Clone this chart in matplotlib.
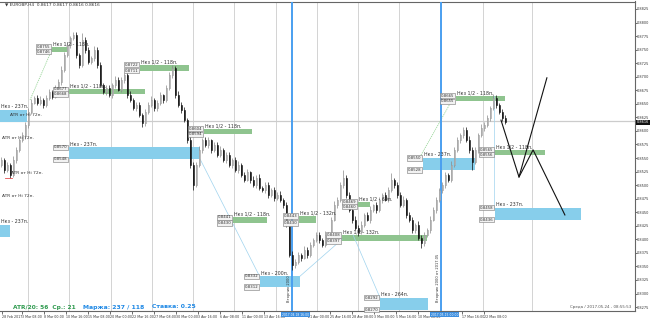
import matplotlib
matplotlib.use("Agg")
import matplotlib.pyplot as plt
from matplotlib.transforms import blended_transform_factory
import numpy as np

plt.rcParams['font.family'] = ['DejaVu Sans']

# ---------------- data (EURGBP, H4) ----------------
first_open = 0.8537
close = [
    0.8546,0.8528,0.8537,0.8519,0.8546,0.8565,0.8583,0.8592,0.8611,0.8635,0.8652,0.8661,0.8652,0.8657,0.8648,0.8661,0.8672,0.8663,0.8679,0.8690,
    0.8712,0.8740,0.8759,0.8771,0.8777,0.8740,0.8722,0.8768,0.8749,0.8727,0.8735,0.8749,0.8722,0.8685,0.8672,0.8679,0.8666,0.8685,0.8694,0.8676,
    0.8694,0.8703,0.8666,0.8657,0.8642,0.8648,0.8629,0.8615,0.8635,0.8648,0.8657,0.8642,0.8652,0.8666,0.8657,0.8679,0.8703,0.8716,0.8666,0.8648,
    0.8639,0.8620,0.8583,0.8537,0.8500,0.8537,0.8565,0.8583,0.8574,0.8583,0.8565,0.8574,0.8556,0.8565,0.8546,0.8556,0.8537,0.8546,0.8528,0.8537,
    0.8519,0.8510,0.8524,0.8510,0.8500,0.8513,0.8495,0.8491,0.8500,0.8482,0.8491,0.8476,0.8482,0.8473,0.8463,0.8427,0.8371,0.8353,0.8358,0.8371,
    0.8366,0.8380,0.8371,0.8390,0.8399,0.8408,0.8399,0.8390,0.8408,0.8399,0.8436,0.8463,0.8473,0.8500,0.8513,0.8482,0.8454,0.8436,0.8421,0.8414,
    0.8427,0.8445,0.8436,0.8454,0.8463,0.8454,0.8473,0.8482,0.8473,0.8491,0.8510,0.8500,0.8482,0.8463,0.8473,0.8445,0.8436,0.8417,0.8427,0.8403,
    0.8393,0.8408,0.8417,0.8436,0.8454,0.8473,0.8491,0.8500,0.8519,0.8510,0.8537,0.8565,0.8583,0.8592,0.8602,0.8583,0.8565,0.8543,0.8565,0.8592,
    0.8605,0.8611,0.8624,0.8642,0.8661,0.8648,0.8635,0.8624,0.8616,
]
upper_wick_pips = [
    5,4,6,3,7,5,4,6,5,8,6,4,5,7,4,6,5,3,6,5,
    7,6,5,4,5,6,4,13,5,6,4,7,5,6,4,5,6,3,7,5,
    6,4,5,7,3,6,5,4,6,5,7,4,5,6,3,6,5,6,4,7,
    5,6,4,8,6,5,7,4,6,5,3,6,5,7,4,5,6,4,5,7,
    4,6,5,3,6,5,7,4,6,5,4,6,5,7,4,5,6,8,5,6,
    4,7,5,6,4,5,6,4,7,5,6,8,5,6,15,5,6,4,7,5,
    6,4,5,7,3,6,5,4,6,5,12,4,6,5,7,4,6,5,4,7,
    5,6,4,7,5,6,4,5,6,4,7,5,6,4,5,6,8,5,6,4,
    7,5,6,4,7,5,4,6,5,
]
lower_wick_pips = [
    4,5,3,6,4,5,3,4,6,5,4,3,5,4,6,3,4,5,3,4,
    5,3,4,6,4,5,6,4,5,3,4,6,5,4,3,5,4,6,5,3,
    4,5,6,3,4,5,4,8,5,4,3,6,5,4,5,3,4,5,6,4,
    5,4,6,5,9,4,3,5,4,6,5,3,4,5,4,6,3,5,4,6,
    4,5,3,6,4,5,4,3,6,5,4,5,3,4,6,5,4,10,5,4,
    6,3,5,4,5,3,6,4,5,6,4,3,5,4,6,5,4,5,3,7,
    4,5,3,6,4,5,4,6,3,5,4,5,6,3,4,5,4,6,5,4,
    9,5,4,6,3,5,4,5,6,4,5,3,4,6,5,4,5,15,4,5,
    4,6,3,5,4,5,4,6,3,
]

price_ticks = [0.8275,0.8300,0.8325,0.8350,0.8375,0.8400,0.8425,0.8450,0.8475,0.8500,0.8525,0.8550,
               0.8575,0.8600,0.8625,0.8650,0.8675,0.8700,0.8725,0.8750,0.8775,0.8800,0.8825]
# labels hidden under the highlighted event boxes are left empty
date_labels = ["3 Mar 08:00","8 Mar 00:00","10 Mar 16:00","15 Mar 08:00","20 Mar 00:00","22 Mar 16:00",
               "27 Mar 08:00","30 Mar 00:00","3 Apr 16:00","6 Apr 08:00","11 Apr 00:00","13 Apr 16:00",
               "","21 Apr 00:00","25 Apr 16:00","28 Apr 08:00","3 May 00:00","5 May 16:00",
               "10 May 08:00","","17 May 16:00","22 May 08:00"]
first_date_label = "28 Feb 2017"

# zones: (start, end, top, bottom, label)
green_zones = [
    (16.8, 21.8, 0.8755, 0.8746, "Нкз 1/2 - 118п."),
    (22.5, 47.8, 0.8677, 0.8668, "Нкз 1/2 - 118п."),
    (46.2, 62.5, 0.8722, 0.8711, "Нкз 1/2 - 118п."),
    (67.5, 83.5, 0.8604, 0.8594, "Нкз 1/2 - 118п."),
    (77.2, 88.5, 0.8441, 0.8430, "Нкз 1/2 - 118п."),
    (99.2, 104.8, 0.8443, 0.8430, "Нкз 1/2 - 132п."),
    (113.5, 141.8, 0.8408, 0.8397, "Нкз 1/2 - 132п."),
    (118.8, 122.8, 0.8469, 0.8460, "Нкз 1/2 - 69п."),
    (151.5, 167.8, 0.8665, 0.8655, "Нкз 1/2 - 118п."),
    (164.5, 181.2, 0.8565, 0.8556, "Нкз 1/2 - 118п."),
]
blue_zones = [
    (-0.5, 8.5, 0.8639, 0.8617, "Нкз - 237п."),
    (22.5, 66.2, 0.8570, 0.8548, "Нкз - 237п."),
    (-0.5, 2.8, 0.8427, 0.8404, "Нкз - 237п."),
    (86.2, 99.5, 0.8332, 0.8312, "Нкз - 200п."),
    (126.2, 142.2, 0.8292, 0.8270, "Нкз - 264п."),
    (140.5, 157.8, 0.8550, 0.8528, "Нкз - 237п."),
    (164.5, 193.2, 0.8458, 0.8436, "Нкз - 237п."),
]
# forecast lines (index, price)
forecast_x = [[166.5, 172.5, 181.8], [172.5, 177.2, 187.8]]
forecast_y = [[0.8620, 0.8515, 0.8698], [0.8515, 0.8565, 0.8445]]
connect_blue = [((66.2, 0.8548), (86.2, 0.8330)), ((99.5, 0.8332), (113.5, 0.8400)),
                ((117.2, 0.8408), (126.2, 0.8292)), ((164.2, 0.8665), (164.2, 0.8458))]
connect_green = [((9.5, 0.8657), (16.8, 0.8750)), ((139.5, 0.8552), (150.5, 0.8660))]
event_lines = [96.8, 146.5]
event_labels = ["2017.04.18 16:00", "2017.05.15 00:00"]
bid = 0.8616
ask_line = 0.8618

# ---------------- figure ----------------
W, H = 650, 318
fig = plt.figure(figsize=(W/100, H/100), dpi=100)
ax = fig.add_axes([0, 7/H, 635/W, 309.5/H])
ax.set_xlim(-0.5, 211.17)
ax.set_ylim(0.82678, 0.88388)
ax.set_facecolor('white')

# vertical grid
grid_idx = [8.8, 22.5, 36.5, 50.2, 63.8, 77.5, 91.5, 105.2, 118.8, 132.5, 146.5, 160.5, 176.8]
for g in grid_idx:
    ax.axvline(g, color='#9a9a9a', lw=0.6, ls=(0, (1.2, 1.2)), zorder=1)
ax.axhline(ask_line, color='#cccccc', lw=0.9, zorder=1)

# zones
def draw_zone(z, color):
    x0, x1, top, bot, lab = z
    ax.fill_between([x0, x1], bot, top, color=color, lw=0, zorder=2)
    ax.text(x0 + 0.4, top + 0.00012, lab, fontsize=3.4, color='#333333', ha='left', va='bottom', zorder=6)

def draw_tags(z):
    x0, x1, top, bot, lab = z
    for p in (top, bot):
        ax.text(x0 - 0.6, p, f"{p:.4f}", fontsize=2.8, color='#333333', ha='right', va='center', zorder=6,
                bbox=dict(boxstyle='square,pad=0.15', fc='#f2f2f2', ec='#777777', lw=0.4))

for z in green_zones:
    draw_zone(z, '#8fc48f')
    draw_tags(z)
for k, z in enumerate(blue_zones):
    draw_zone(z, '#87ceeb')
    if z[0] > 5:
        draw_tags(z)

for (a, b) in connect_blue:
    ax.plot([a[0], b[0]], [a[1], b[1]], color='#9fd3ee', lw=0.5, zorder=3)
for (a, b) in connect_green:
    ax.plot([a[0], b[0]], [a[1], b[1]], color='#9ad69a', lw=0.6, ls=(0, (1.5, 1)), zorder=3)

# event lines
for ev in event_lines:
    ax.axvline(ev, color='#4a9ff0', lw=1.4, zorder=4)
ax.text(event_lines[0] - 0.9, 0.8285, "Вторник 2000", rotation=90, fontsize=2.6, color='#333333',
        ha='center', va='bottom', zorder=7)
ax.text(event_lines[1] - 0.9, 0.8285, "Вторник 2000 от 2017.05", rotation=90, fontsize=2.6, color='#333333',
        ha='center', va='bottom', zorder=7)

# candles
n = len(close)
idx = np.arange(n)
opens = [first_open] + close[:-1]
for i in range(n):
    o, c = opens[i], close[i]
    hi = max(o, c) + upper_wick_pips[i] * 0.0001
    lo = min(o, c) - lower_wick_pips[i] * 0.0001
    col = '#8a8a8a' if c >= o else '#111111'
    ax.vlines(idx[i], lo, hi, color=col, lw=0.5, zorder=5)
    ax.bar(idx[i], max(abs(c - o), 0.00008), bottom=min(o, c), width=0.6,
           color=('white' if c >= o else '#111111'), edgecolor=col, lw=0.4, zorder=5)

# forecast
for fx, fy in zip(forecast_x, forecast_y):
    ax.plot(fx, fy, color='#111111', lw=0.8, zorder=6)

# ATR texts
ax.text(3, 0.8627, "ATR от Hi 72п.", fontsize=3.2, color='#333333', zorder=7)
ax.text(0.3, 0.8585, "ATR от Hi 72п.", fontsize=3.2, color='#333333', zorder=7)
ax.text(3.3, 0.8520, "ATR от Hi 72п.", fontsize=3.2, color='#333333', zorder=7)
ax.text(0.3, 0.8478, "ATR от Hi 72п.", fontsize=3.2, color='#333333', zorder=7)
ax.plot([1.2, 3.6], [0.8513, 0.8513], color='#e05050', lw=0.6, zorder=7)

# axes style
ax.spines['left'].set_visible(False)
for s in ['top', 'right', 'bottom']:
    ax.spines[s].set_color('#666666')
    ax.spines[s].set_linewidth(0.8)
ax.yaxis.tick_right()
ax.set_yticks(price_ticks)
ax.set_yticklabels([f"{p:.4f}" for p in price_ticks])
ax.tick_params(axis='y', labelsize=2.5, length=1.2, width=0.5, pad=0.4, colors='#333333')

tick_pos = [(1 - 1.5) / 3 + 0.2] + [(20.5 + 22 * k) / 3 for k in range(len(date_labels))]
ax.set_xticks(tick_pos)
ax.set_xticklabels([first_date_label] + date_labels)
ax.tick_params(axis='x', labelsize=2.3, length=2, width=0.5, pad=1, colors='#333333')
for lab in ax.get_xticklabels():
    lab.set_ha('left')

trans = blended_transform_factory(ax.transData, ax.transAxes)
for ev, lab in zip(event_lines, event_labels):
    ax.text(ev + 1.2, -0.006, lab, transform=trans, fontsize=2.2, color='white', ha='center', va='top',
            bbox=dict(boxstyle='square,pad=0.2', fc='#3d8fe0', ec='none'), zorder=10, clip_on=False)

transR = blended_transform_factory(ax.transAxes, ax.transData)
ax.text(1.003, bid, f"{bid:.4f}", transform=transR, fontsize=2.5, color='white', ha='left', va='center',
        bbox=dict(boxstyle='square,pad=0.15', fc='#111111', ec='none'), zorder=10, clip_on=False)

# overlay texts
fig.text(5/W, 1 - 5/H, "▼ EURGBP,H4  0.8617 0.8617 0.8616 0.8616", fontsize=3.1, color='#333333', va='center')
fig.text(13/W, 1 - 307/H, "ATR/20: 56  Ср.: 21", fontsize=4.2, color='#2e9a4e', weight='bold', va='center')
fig.text(83/W, 1 - 307/H, "Маржа: 237 / 118", fontsize=4.4, color='#1e88e5', weight='bold', va='center')
fig.text(152/W, 1 - 307/H, "Ставка: 0.25", fontsize=4.4, color='#1e88e5', weight='bold', va='center')
fig.text(570/W, 1 - 307/H, "Среда / 2017.05.24 - 08:55:53", fontsize=2.9, color='#555555', va='center')

fig.savefig("out.png", dpi=100)
